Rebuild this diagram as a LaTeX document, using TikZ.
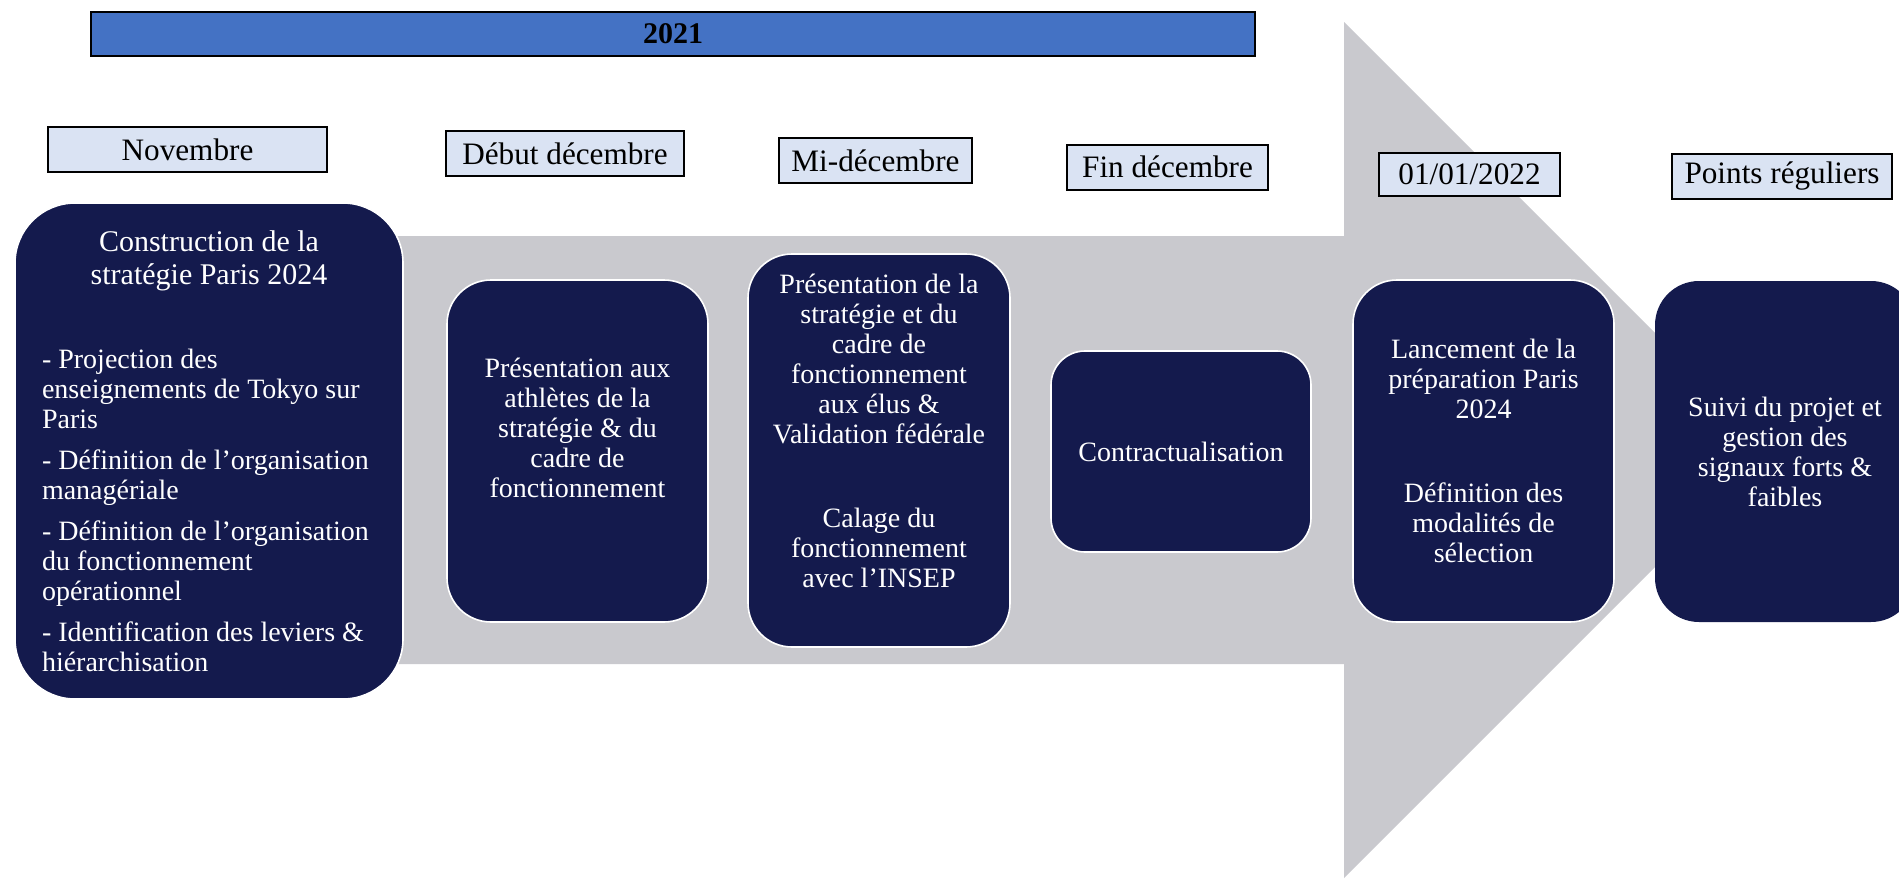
\documentclass[tikz,border=0pt]{standalone}
\usepackage{fontspec}
\setmainfont{Liberation Serif}
\usepackage[table]{xcolor}
\usepackage{tikz}
\usetikzlibrary{backgrounds,calc}
\definecolor{bleuannee}{HTML}{4472C4}
\definecolor{bleumois}{HTML}{DAE3F3}
\definecolor{marine}{HTML}{141A4D}
\definecolor{grisfleche}{HTML}{C9C9CE}

\begin{document}
\begin{tikzpicture}[x=0.5pt,y=-0.5pt,
  annee/.style={draw=black,line width=1pt,fill=bleuannee,inner sep=0pt,
    minimum width=582pt,minimum height=22pt,font={\fontsize{15}{18}\selectfont\bfseries}},
  mois/.style={draw=black,line width=1pt,fill=bleumois,inner sep=0pt,
    minimum height=22.5pt,font={\fontsize{15.6}{18}\selectfont}},
  etape/.style={draw=white,line width=0.8pt,fill=marine,text=white,align=center,
    inner sep=0pt,font={\fontsize{14}{15}\selectfont}}]
\useasboundingbox (0,0) rectangle (1899,878);
% fleche de fond
\fill[grisfleche] (200,236) -- (1344,236) -- (1344,22) -- (1772,450)
  -- (1344,878) -- (1344,664) -- (200,664) -- cycle;
% bandeau annee
\node[annee] (an) at (673,34) {2021};
% dates
\node[mois,minimum width=139.5pt] (m1) at (187.5,149.5) {Novembre};
\node[mois,minimum width=119pt] (m2) at (565,153.5) {Début décembre};
\node[mois,minimum width=96.5pt] (m3) at (875.5,160.5) {Mi-décembre};
\node[mois,minimum width=100.5pt] (m4) at (1167.5,167) {Fin décembre};
\node[mois,minimum width=90.5pt,minimum height=21.5pt] (m5) at (1469.5,174.5) {01/01/2022};
\node[mois,minimum width=110pt] (m6) at (1782,176.5) {Points réguliers};
% etapes
\node[etape,align=flush left,text width=167pt,minimum width=194pt,minimum height=248pt,
  rounded corners=30pt] (e1) at (209,451) {\setlength\parskip{5.5pt}%
  {\centering\fontsize{15}{16.5}\selectfont Construction de la\\ stratégie Paris 2024\par}
  \vspace{21.5pt}
  - Projection des\\ enseignements de Tokyo sur\\ Paris\par
  - Définition de l'organisation\\ managériale\par
  - Définition de l'organisation\\ du fonctionnement\\ opérationnel\par
  - Identification des leviers \&\\ hiérarchisation};
\node[etape,minimum width=130.5pt,minimum height=171pt,rounded corners=22pt] (e2) at (577.5,451)
  {Présentation aux\\ athlètes de la\\ stratégie \& du\\ cadre de\\ fonctionnement\\[8pt]\mbox{}};
\node[etape,minimum width=131pt,minimum height=196.5pt,rounded corners=22pt] (e3) at (879,450.5)
  {Présentation de la\\ stratégie et du\\ cadre de\\ fonctionnement\\ aux élus \&\\
   Validation fédérale\\[27pt] Calage du\\ fonctionnement\\ avec l'INSEP\\[5pt]\mbox{}};
\node[etape,minimum width=130pt,minimum height=100.5pt,rounded corners=17pt] (e4) at (1181,451.5)
  {Contractualisation};
\node[etape,minimum width=130.5pt,minimum height=171pt,rounded corners=22pt] (e5) at (1483.5,451)
  {Lancement de la\\ préparation Paris\\ 2024\\[27pt] Définition des\\ modalités de\\ sélection};
\node[etape,draw=none,minimum width=130pt,minimum height=170.5pt,rounded corners=22pt] (e6) at (1785,451.5)
  {Suivi du projet et\\ gestion des\\ signaux forts \&\\ faibles};
\end{tikzpicture}
\end{document}
